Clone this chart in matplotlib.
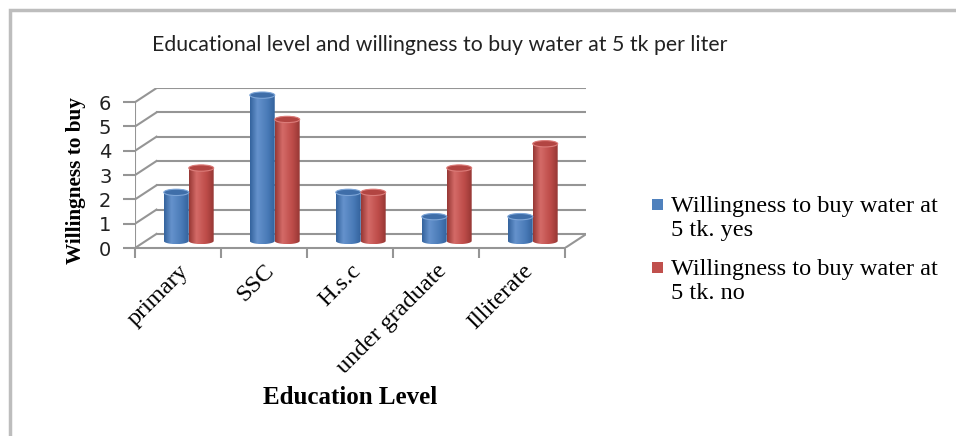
import numpy as np
import matplotlib.pyplot as plt
from matplotlib.patches import Rectangle, Ellipse, PathPatch
from matplotlib.path import Path
from matplotlib.colors import LinearSegmentedColormap

categories = ['primary', 'SSC', 'H.s.c', 'under graduate', 'Illiterate']
yes_values = [2, 6, 2, 1, 1]
no_values = [3, 5, 2, 3, 4]
series_labels = ['Willingness to buy water at\n5 tk. yes',
                 'Willingness to buy water at\n5 tk. no']
y_ticks = [0, 1, 2, 3, 4, 5, 6]

W, H = 956, 436
fig = plt.figure(figsize=(W / 100, H / 100), dpi=100)

# depth of the fake 3D box (data units) and cylinder sizes
DX, DY = 0.25, 0.58
BAR_W = 0.29
CAP_H = 0.26
GRID = '#959595'

ax = fig.add_axes([135 / W, (H - 248) / H,
                   (565 - 135) / W * (5 + DX) / 5, 24.3 * (6 + DY) / H])

# back wall gridlines, side wall slants, front axis, floor edges
for v in y_ticks:
    ax.plot([-0.5 + DX, 4.5 + DX], [v + DY, v + DY], color=GRID, lw=1.5, zorder=1)
    ax.plot([-0.5, -0.5 + DX], [v, v + DY], color=GRID, lw=1.5, zorder=1)
ax.plot([-0.5, -0.5], [0, 6], color=GRID, lw=1.5, zorder=1)
ax.plot([-0.5, 4.5], [0, 0], color=GRID, lw=1.5, zorder=1, clip_on=False)
ax.plot([4.5, 4.5 + DX], [0, DY], color=GRID, lw=1.5, zorder=1)

blue_cmap = LinearSegmentedColormap.from_list(
    'blue_cyl', [(0, '#33629c'), (0.3, '#6592cc'), (0.7, '#4a7bb8'), (1, '#33629c')])
red_cmap = LinearSegmentedColormap.from_list(
    'red_cyl', [(0, '#963734'), (0.3, '#d46a67'), (0.7, '#bd4c49'), (1, '#963734')])
grad = np.linspace(0, 1, 256)[np.newaxis, :]


def cylinder(x0, value, cmap, cap_color, rim_color):
    base = DY / 2
    top = base + value
    xc = x0 + BAR_W / 2
    t = np.linspace(np.pi, 2 * np.pi, 40)
    bottom_arc = np.column_stack([xc + BAR_W / 2 * np.cos(t), base + CAP_H / 2 * np.sin(t)])
    t = np.linspace(0, np.pi, 40)
    top_arc = np.column_stack([xc + BAR_W / 2 * np.cos(t), top + CAP_H / 2 * np.sin(t)])
    outline = PathPatch(Path(np.vstack([bottom_arc, top_arc, bottom_arc[:1]])),
                        facecolor='none', edgecolor='none', zorder=3)
    ax.add_patch(outline)
    im = ax.imshow(grad, extent=(x0, x0 + BAR_W, base - CAP_H / 2, top + CAP_H / 2),
                   aspect='auto', cmap=cmap, zorder=3)
    im.set_clip_path(outline)
    ax.add_patch(Ellipse((xc, top), BAR_W, CAP_H, facecolor=cap_color,
                         edgecolor=rim_color, lw=0.8, zorder=4))


for i in range(len(categories)):
    cylinder(i + DX / 2 - BAR_W, yes_values[i], blue_cmap, '#3f6ea9', '#7ea6d8')
    cylinder(i + DX / 2, no_values[i], red_cmap, '#b24542', '#dc7d7a')

ax.set_xlim(-0.5, 4.5 + DX)
ax.set_ylim(0, 6 + DY)
for s in ax.spines.values():
    s.set_visible(False)

ax.set_yticks(y_ticks)
ax.set_yticklabels([str(v) for v in y_ticks], fontsize=14, color='#222222')
ax.tick_params(axis='y', length=9, width=1.5, color=GRID, pad=8)

ax.set_xticks(np.arange(-0.5, 5, 1))
ax.set_xticklabels([])
ax.tick_params(axis='x', which='major', length=7, width=1.5, color=GRID)
ax.set_xticks(range(len(categories)), minor=True)
ax.set_xticklabels(categories, minor=True, rotation=45, ha='right',
                   rotation_mode='anchor', fontsize=17.5, family='Liberation Serif')
ax.tick_params(axis='x', which='minor', length=0, pad=9)

fig.text(440 / W, 1 - 45 / H,
         'Educational level and willingness to buy water at 5 tk per liter',
         ha='center', va='center', fontsize=15.3, family='Lato', color='#222222')
fig.text(76 / W, 1 - 181 / H, 'Willingness to buy', rotation=90, ha='center',
         va='center', fontsize=15.3, fontweight='bold', family='Liberation Serif')
fig.text(350 / W, 1 - 397 / H, 'Education Level', ha='center', va='center',
         fontsize=18, fontweight='bold', family='Liberation Serif')

# legend entries
for k, (label, color) in enumerate(zip(series_labels, ['#4f81bd', '#c0504d'])):
    y = 205 + k * 63
    fig.add_artist(Rectangle((652 / W, 1 - (y + 5) / H), 11 / W, 11 / H,
                             facecolor=color, edgecolor='none',
                             transform=fig.transFigure))
    fig.text(671 / W, 1 - (y - 9) / H, label, ha='left', va='top',
             fontsize=17.5, family='Liberation Serif', linespacing=1.17)

# chart area frame
fig.add_artist(Rectangle((10 / W, -0.1), 1.2, (H - 10) / H + 0.1, fill=False,
                         edgecolor='#bdbdbd', lw=2.5, transform=fig.transFigure))

fig.savefig('out.png', dpi=100)
